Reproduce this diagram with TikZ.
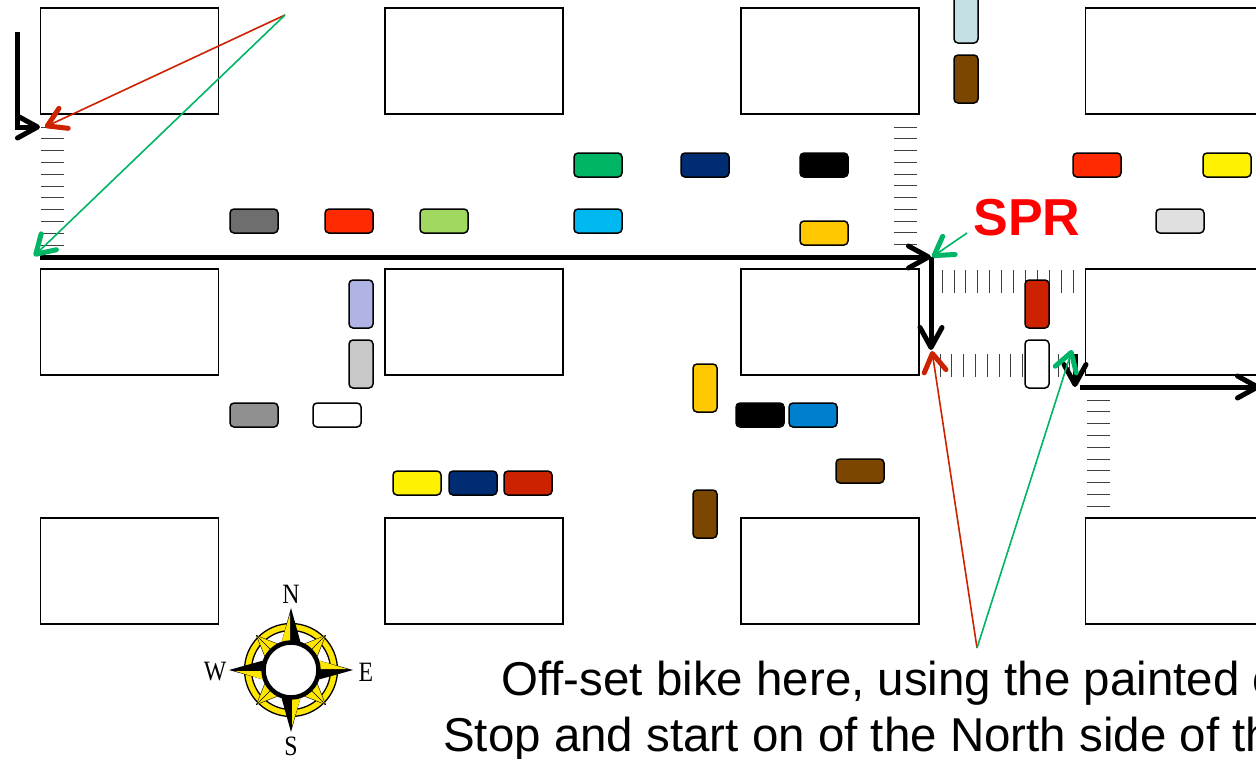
\documentclass[tikz,border=0pt]{standalone}
\usepackage{fontspec}
\setmainfont{Liberation Sans}
\newfontfamily\compassfont{Liberation Serif}
\usetikzlibrary{arrows.meta}
\definecolor{gr}{HTML}{00B566}
\definecolor{rd}{HTML}{CC2200}
\definecolor{brt}{HTML}{FF2A00}
\definecolor{nvy}{HTML}{002D72}
\definecolor{gld}{HTML}{FFC800}
\definecolor{cyn}{HTML}{00B8F0}
\definecolor{lgr}{HTML}{A0D860}
\definecolor{brn}{HTML}{7A4600}
\definecolor{lav}{HTML}{B0B4E4}
\definecolor{lbl}{HTML}{C4E0E4}
\definecolor{blu}{HTML}{0080CC}
\definecolor{gy}{HTML}{6E6E6E}
\definecolor{gz}{HTML}{909090}
\definecolor{gc}{HTML}{C8C8C8}
\definecolor{ge}{HTML}{E0E0E0}
\definecolor{cmp}{HTML}{FFE600}
\tikzset{
  block/.style={draw=black,line width=1.4pt,fill=white,minimum width=178pt,minimum height=106pt,inner sep=0pt,outer sep=0pt},
  carh/.style={draw=black,line width=1.5pt,rounded corners=4pt,minimum width=48pt,minimum height=24pt,inner sep=0pt,outer sep=0pt},
  carv/.style={carh,minimum width=24pt,minimum height=48pt},
  hatch/.style={line width=0.8pt,draw=black!75},
  route/.style={line width=5pt,draw=black,line cap=butt,-{Straight Barb[length=20pt,width=22pt,round]}},
  callout/.style={line width=1.6pt,-{Straight Barb[line width=5pt,length=18pt,width=22pt,round]}},
  bigtext/.style={font=\fontsize{47.5}{47.5}\selectfont,anchor=base west,inner sep=0pt},
  dir/.style={font=\compassfont\fontsize{28}{28}\selectfont,inner sep=0pt,xscale=0.85}
}
\begin{document}
\begin{tikzpicture}[x=1pt,y=-1pt]
\clip (0,0) rectangle (1256,758);
\fill[white] (0,0) rectangle (1256,758);
% blocks
\foreach \n/\x/\y in {a1/129.5/61,a2/473.8/61,a3/829.8/61,a4/1174.5/61,
                      b1/129.5/322,b2/473.8/322,b3/829.8/322,b4/1174.5/322,
                      c1/129.5/571,c2/473.8/571,c3/829.8/571,c4/1174.5/571}
  \node[block] (\n) at (\x,\y) {};
% crossings
\foreach \i in {0,...,10} \draw[hatch] (41,127+\i*11.8) -- (64,127+\i*11.8);
\foreach \i in {0,...,10} \draw[hatch] (894,127+\i*11.75) -- (917,127+\i*11.75);
\foreach \i in {0,...,9} \draw[hatch] (1087,400+\i*11.8) -- (1110,400+\i*11.8);
\foreach \i in {0,...,11} \draw[hatch] (942+\i*11.9,270) -- (942+\i*11.9,293);
\foreach \i in {0,...,11} \draw[hatch] (940+\i*11.8,354) -- (940+\i*11.8,377);
% cars
\node[carv,fill=lbl] (k1) at (966,19) {};
\node[carv,fill=brn] (k2) at (966,79) {};
\node[carh,fill=gr] (k3) at (598,165) {};
\node[carh,fill=nvy] (k4) at (705,165) {};
\node[carh,fill=black] (k5) at (824,165) {};
\node[carh,fill=brt] (k6) at (1097,165) {};
\node[carh,fill=yellow] (k7) at (1227,165) {};
\node[carh,fill=gy] (k8) at (254,221) {};
\node[carh,fill=brt] (k9) at (349,221) {};
\node[carh,fill=lgr] (k10) at (444,221) {};
\node[carh,fill=cyn] (k11) at (598,221) {};
\node[carh,fill=gld] (k12) at (824,233) {};
\node[carh,fill=ge] (k13) at (1180,221) {};
\node[carv,fill=lav] (k14) at (361,304) {};
\node[carv,fill=gc] (k15) at (361,364) {};
\node[carv,fill=gld] (k16) at (705,388) {};
\node[carv,fill=brn] (k17) at (705,514) {};
\node[carv,fill=rd] (k18) at (1037,304) {};
\node[carv,fill=white] (k19) at (1037,364) {};
\node[carh,fill=gz] (k20) at (254,415) {};
\node[carh,fill=white] (k21) at (337,415) {};
\node[carh,fill=black] (k22) at (760,415) {};
\node[carh,fill=blu] (k23) at (813,415) {};
\node[carh,fill=brn] (k24) at (860,471) {};
\node[carh,fill=yellow] (k25) at (417,483) {};
\node[carh,fill=nvy] (k26) at (473,483) {};
\node[carh,fill=rd] (k27) at (528,483) {};
% route points
\coordinate (p0) at (17,32);
\coordinate (p1) at (17,127);
\coordinate (p2) at (40,127);
\coordinate (p3) at (40,257);
\coordinate (p4) at (931,257);
\coordinate (p5) at (931,350);
\coordinate (p6) at (1075,354);
\coordinate (p7) at (1075,387);
\coordinate (p8) at (1080,387);
\coordinate (p9) at (1260,387);
\coordinate (q1) at (285,15);
\coordinate (q2) at (45,127);
\coordinate (q3) at (34,256);
\coordinate (q4) at (967,233);
\coordinate (q5) at (932,257);
\coordinate (q6) at (977,648);
\coordinate (q7) at (932,351);
\coordinate (q8) at (1072,350);
% routes
\draw[route] (p0) -- (p1) -- (p2);
\draw[route] (p3) -- (p4);
\draw[route] (p4) -- (p5);
\draw[route] (p6) -- (p7);
\draw[route] (p8) -- (p9);
% callouts
\draw[callout,draw=rd] (q1) -- (q2);
\draw[callout,draw=gr] (q1) -- (q3);
\draw[callout,draw=gr] (q4) -- (q5);
\draw[callout,draw=rd] (q6) -- (q7);
\draw[callout,draw=gr] (q6) -- (q8);
% text
\node[font=\bfseries\fontsize{52}{52}\selectfont,text=red,inner sep=0pt] (spr) at (1027,218) {SPR};
\node[bigtext] (t1) at (501,695) {Off-set bike here, using the painted c};
\node[bigtext] (t2) at (443,751) {Stop and start on of the North side of th};
% compass
\begin{scope}[shift={(291,670)}]
  \draw[black,line width=1.3pt,fill=cmp] (0,0) circle (46.5);
  \draw[black,line width=1.3pt,fill=white] (0,0) circle (39.5);
  \foreach \a in {45,135,225,315} {
    \begin{scope}[rotate=-\a]
      \draw[black,line width=0.4pt,fill=cmp,line join=round] (0,-49) -- (-9,-28) -- (9,-28) -- cycle;
      \draw[black,line width=0.4pt] (0,-49) -- (0,-28);
    \end{scope}}
  \foreach \a in {0,90,180,270} {
    \begin{scope}[rotate=-\a]
      \fill[black] (0,-62) -- (10,-26) -- (-10,-26) -- cycle;
      \fill[cmp] (-1,-56) -- (-9.5,-28) -- (-1,-28) -- cycle;
    \end{scope}}
  \draw[black,line width=4.5pt,fill=white] (0,0) circle (27.5);
\end{scope}
\node[dir] (dn) at (291,594) {N};
\node[dir] (ds) at (291,746) {S};
\node[dir] (de) at (366,672) {E};
\node[dir] (dw) at (215,672) {W};
\end{tikzpicture}
\end{document}
